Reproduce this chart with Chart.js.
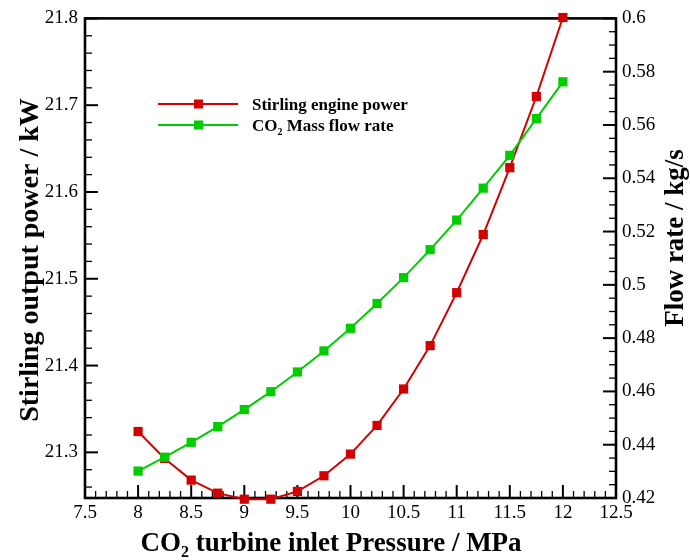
<!DOCTYPE html>
<html>
<head>
<meta charset="utf-8">
<script src="https://cdn.jsdelivr.net/npm/chart.js@4.4.1/dist/chart.umd.min.js"></script>
<style>
  body { margin: 0; background: #fff; }
  #wrap { width: 690px; height: 560px; }
</style>
</head>
<body>
<div id="wrap"><canvas id="chart" width="690" height="560"></canvas></div>
<script>
// data
const pressureMPa = [8, 8.25, 8.5, 8.75, 9, 9.25, 9.5, 9.75, 10, 10.25, 10.5, 10.75, 11, 11.25, 11.5, 11.75, 12];
const stirlingPowerKW = [21.324, 21.293, 21.268, 21.253, 21.246, 21.246, 21.255, 21.273, 21.298, 21.331, 21.373, 21.423, 21.484, 21.551, 21.628, 21.710, 21.801];
const massFlowKgS = [0.4301, 0.4353, 0.4409, 0.4468, 0.4532, 0.4599, 0.4673, 0.4752, 0.4837, 0.4930, 0.5027, 0.5132, 0.5243, 0.5363, 0.5486, 0.5624, 0.5762];

const xTicks = [7.5, 8, 8.5, 9, 9.5, 10, 10.5, 11, 11.5, 12, 12.5];
const powerTicks = [21.3, 21.4, 21.5, 21.6, 21.7, 21.8];
const flowTicks = [0.42, 0.44, 0.46, 0.48, 0.5, 0.52, 0.54, 0.56, 0.58, 0.6];

const RED = '#d20000';
const GREEN = '#00cc00';
const SERIF = '"Liberation Serif", "Times New Roman", serif';

function fmt(v) { return String(Number(v.toFixed(4))); }

// draw text pieces, some as subscripts, centred on x
function richText(ctx, parts, x, y, size, align) {
  let w = 0;
  parts.forEach(p => {
    ctx.font = 'bold ' + (p.sub ? Math.round(size * 0.6) : size) + 'px ' + SERIF;
    p.w = ctx.measureText(p.t).width;
    w += p.w;
  });
  let cx = align === 'left' ? x : x - w / 2;
  parts.forEach(p => {
    ctx.font = 'bold ' + (p.sub ? Math.round(size * 0.6) : size) + 'px ' + SERIF;
    ctx.fillText(p.t, cx, p.sub ? y + size * 0.22 : y);
    cx += p.w;
  });
}

// frame + inward ticks (Tecplot look)
const framePlugin = {
  id: 'frame',
  beforeDatasetsDraw(chart) {
    const { ctx, chartArea: a, scales } = chart;
    ctx.save();
    ctx.strokeStyle = '#000';
    ctx.lineCap = 'butt';

    const tick = (x1, y1, x2, y2, w) => {
      ctx.lineWidth = w;
      ctx.beginPath(); ctx.moveTo(x1, y1); ctx.lineTo(x2, y2); ctx.stroke();
    };

    // x axis
    for (let i = 0; i <= 50; i++) {
      const v = 7.5 + i * 0.1;
      const px = scales.x.getPixelForValue(v);
      const major = i % 5 === 0;
      tick(px, a.bottom, px, a.bottom - (major ? 13 : 7), major ? 2 : 1.3);
    }
    // left axis
    for (let i = 0; i <= 30; i++) {
      const v = 21.8 - i * 0.02;
      if (v < scales.y.min - 1e-6) break;
      const py = scales.y.getPixelForValue(v);
      const major = i % 5 === 0;
      tick(a.left, py, a.left + (major ? 13 : 7), py, major ? 2 : 1.3);
    }
    // right axis
    for (let i = 0; i <= 36; i++) {
      const v = 0.42 + i * 0.005;
      const py = scales.y1.getPixelForValue(v);
      const major = i % 4 === 0;
      tick(a.right, py, a.right - (major ? 13 : 7), py, major ? 2 : 1.3);
    }

    ctx.lineWidth = 2.6;
    ctx.strokeRect(a.left, a.top, a.right - a.left, a.bottom - a.top);
    ctx.restore();
  },
  afterDraw(chart) {
    const { ctx } = chart;
    ctx.save();
    ctx.fillStyle = '#000';
    ctx.textBaseline = 'alphabetic';

    // x title
    richText(ctx, [{ t: 'CO' }, { t: '2', sub: true }, { t: ' turbine inlet Pressure / MPa' }], 331, 551, 27);

    // left title
    ctx.save();
    ctx.translate(38, 260);
    ctx.rotate(-Math.PI / 2);
    richText(ctx, [{ t: 'Stirling output power / kW' }], 0, 0, 28);
    ctx.restore();

    // right title
    ctx.save();
    ctx.translate(683, 238);
    ctx.rotate(-Math.PI / 2);
    richText(ctx, [{ t: 'Flow rate / kg/s' }], 0, 0, 27);
    ctx.restore();

    // legend
    const rows = [
      { c: RED, y: 104, parts: [{ t: 'Stirling engine power' }] },
      { c: GREEN, y: 125, parts: [{ t: 'CO' }, { t: '2', sub: true }, { t: ' Mass flow rate' }] }
    ];
    rows.forEach(r => {
      ctx.strokeStyle = r.c;
      ctx.lineWidth = 2;
      ctx.beginPath(); ctx.moveTo(158, r.y); ctx.lineTo(238, r.y); ctx.stroke();
      ctx.fillStyle = r.c;
      ctx.fillRect(194, r.y - 4.5, 9, 9);
      ctx.fillStyle = '#000';
      richText(ctx, r.parts, 252, r.y + 6, 17, 'left');
    });
    ctx.restore();
  }
};

const ctx = document.getElementById('chart').getContext('2d');
new Chart(ctx, {
  type: 'line',
  data: {
    datasets: [{
      label: 'Stirling engine power',
      data: pressureMPa.map((x, i) => ({ x, y: stirlingPowerKW[i] })),
      yAxisID: 'y',
      order: 1,
      borderColor: RED,
      backgroundColor: RED,
      borderWidth: 2,
      pointStyle: 'rect',
      pointRadius: 6.5,
      pointBorderWidth: 0,
      tension: 0,
      clip: false
    }, {
      label: 'CO2 Mass flow rate',
      data: pressureMPa.map((x, i) => ({ x, y: massFlowKgS[i] })),
      yAxisID: 'y1',
      order: 0,
      borderColor: GREEN,
      backgroundColor: GREEN,
      borderWidth: 2,
      pointStyle: 'rect',
      pointRadius: 6.5,
      pointBorderWidth: 0,
      tension: 0,
      clip: false
    }]
  },
  options: {
    responsive: false,
    animation: false,
    layout: { padding: { top: 15 } },
    plugins: { legend: { display: false }, tooltip: { enabled: false } },
    scales: {
      x: {
        type: 'linear',
        min: 7.5, max: 12.5,
        afterBuildTicks: s => { s.ticks = xTicks.map(v => ({ value: v })); },
        afterFit: s => { s.height = 62; },
        grid: { display: false, drawTicks: false },
        border: { display: false },
        ticks: { color: '#000', padding: 4, font: { family: SERIF, size: 19 }, callback: v => fmt(v), maxRotation: 0, autoSkip: false }
      },
      y: {
        position: 'left',
        min: 21.2474, max: 21.8,
        afterBuildTicks: s => { s.ticks = powerTicks.map(v => ({ value: v })); },
        afterFit: s => { s.width = 85; },
        grid: { display: false, drawTicks: false },
        border: { display: false },
        ticks: { color: '#000', padding: 7, font: { family: SERIF, size: 19 }, callback: v => fmt(v) }
      },
      y1: {
        position: 'right',
        min: 0.42, max: 0.6,
        afterBuildTicks: s => { s.ticks = flowTicks.map(v => ({ value: v })); },
        afterFit: s => { s.width = 74; },
        grid: { display: false, drawTicks: false },
        border: { display: false },
        ticks: { color: '#000', padding: 6, font: { family: SERIF, size: 19 }, callback: v => fmt(v) }
      }
    }
  },
  plugins: [framePlugin]
});
</script>
</body>
</html>
